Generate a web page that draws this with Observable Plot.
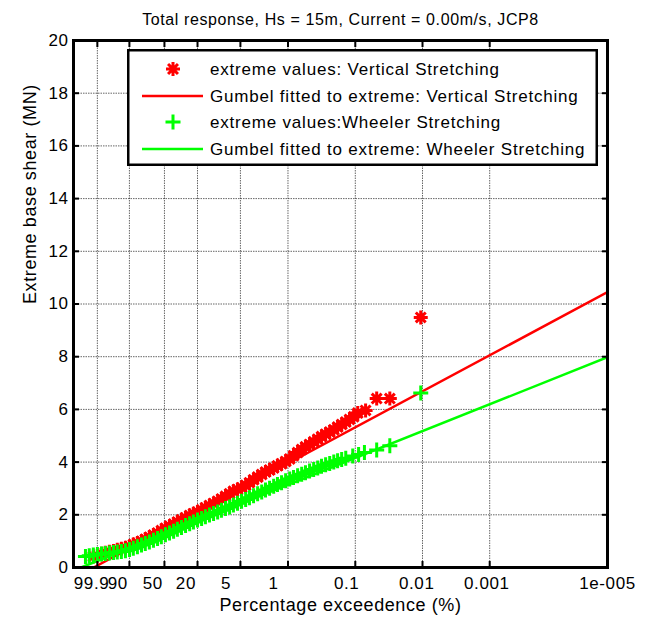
<!DOCTYPE html>
<html>
<head>
<meta charset="utf-8">
<script src="https://cdn.jsdelivr.net/npm/d3@7"></script>
<script src="https://cdn.jsdelivr.net/npm/@observablehq/plot@0.6"></script>
<style>
  body { margin: 0; background: #fff; }
  #wrap { position: relative; width: 655px; height: 624px; font-family: "Liberation Sans", Arial, sans-serif; }
  #wrap svg text { letter-spacing: 0.6px; }
  #legend { position: absolute; left: 127px; top: 49px; }
</style>
</head>
<body>
<div id="wrap"></div>
<script>
// ---------- text ----------
const titleText = "Total response, Hs = 15m, Current = 0.00m/s, JCP8";
const xLabel = "Percentage exceedence (%)";
const yLabel = "Extreme base shear (MN)";
const legendLabels = [
  "extreme values: Vertical Stretching",
  "Gumbel fitted to extreme: Vertical Stretching",
  "extreme values:Wheeler Stretching",
  "Gumbel fitted to extreme: Wheeler Stretching"
];

// ---------- axes ----------
const xTickPct = [99.9, 90, 50, 20, 5, 1, 0.1, 0.01, 0.001];
const xTickLabels = ["99.9", "90", "50", "20", "5", "1", "0.1", "0.01", "0.001", "1e-005"];
const xLimits = [-2.75, 15.55];          // Gumbel reduced variate range of the axis
const yTicks = [0, 2, 4, 6, 8, 10, 12, 14, 16, 18, 20];
const yLimits = [0, 20];

// ---------- data (x = Gumbel reduced variate of the plotting position) ----------
const bandX = [-2.34,-2.21,-2.07,-1.93,-1.79,-1.66,-1.52,-1.38,-1.25,-1.11,-0.97,-0.83,-0.70,-0.56,-0.42,-0.29,
  -0.15,-0.01,0.13,0.26,0.40,0.54,0.68,0.81,0.95,1.09,1.23,1.36,1.50,1.64,1.77,1.91,2.05,2.19,2.32,2.46,2.60,
  2.73,2.87,3.01,3.15,3.28,3.42,3.56,3.70,3.83,3.97,4.11,4.24,4.38,4.52,4.66,4.79,4.93,5.07,5.20,5.34,5.48,
  5.62,5.75,5.89,6.03,6.17,6.30,6.44,6.58];

const redTailX = [6.71, 6.85, 6.99, 7.26, 7.64, 8.09, 9.15];
const redBandVals = [0.42,0.45,0.52,0.56,0.60,0.63,0.67,0.71,0.75,0.80,0.87,0.93,1.00,1.07,1.15,1.23,1.31,1.40,
  1.49,1.57,1.65,1.73,1.81,1.89,1.97,2.04,2.11,2.19,2.27,2.35,2.43,2.51,2.60,2.70,2.80,2.89,2.96,3.03,3.12,3.22,
  3.33,3.43,3.53,3.62,3.70,3.78,3.86,3.94,4.02,4.12,4.24,4.36,4.48,4.58,4.67,4.77,4.87,4.97,5.06,5.14,5.23,5.33,
  5.43,5.52];
const redTailVals = [5.62, 5.72, 5.86, 5.96, 6.41, 6.41, 9.49];

const greenTailX = [6.82, 7.02, 7.22, 7.64, 8.09, 9.15];
const greenBandVals = [0.42,0.45,0.47,0.49,0.51,0.53,0.55,0.57,0.59,0.61,0.64,0.68,0.73,0.79,0.85,0.91,0.97,1.03,
  1.10,1.17,1.24,1.31,1.38,1.45,1.52,1.59,1.66,1.73,1.80,1.86,1.93,1.99,2.05,2.11,2.17,2.24,2.30,2.37,2.44,2.51,
  2.58,2.65,2.72,2.80,2.87,2.94,3.01,3.08,3.15,3.22,3.29,3.36,3.42,3.48,3.54,3.60,3.66,3.72,3.78,3.84,3.90,3.95,
  4.00,4.05,4.10,4.15];
const greenTailVals = [4.23, 4.29, 4.36, 4.46, 4.62, 6.62];

// fitted Gumbel lines: end points
const redFitX = [-2.06, 15.55], redFitVals = [0, 10.45];
const greenFitX = [-2.49, 15.55], greenFitVals = [0, 7.98];

// ---------- build tables ----------
const redX = bandX.slice(2).concat(redTailX);
const redVals = redBandVals.concat(redTailVals);
const greenX = bandX.concat(greenTailX);
const greenVals = greenBandVals.concat(greenTailVals);
const redPts = redX.map((x, i) => ({x, y: redVals[i]}));
const greenPts = greenX.map((x, i) => ({x, y: greenVals[i]}));
const redFit = redFitX.map((x, i) => ({x, y: redFitVals[i]}));
const greenFit = greenFitX.map((x, i) => ({x, y: greenFitVals[i]}));

const gumbel = p => -Math.log(-Math.log(1 - p / 100));
const xTickVals = xTickPct.map(gumbel).concat([xLimits[1]]);
const xTickTable = xTickVals.map((x, i) => ({x, label: xTickLabels[i], len: xTickLabels[i].length}));

// MATLAB-like markers
const matStar = {draw(ctx, size) {
  const h = Math.sqrt(size / Math.PI), d = h * Math.SQRT1_2;
  ctx.moveTo(-h, 0); ctx.lineTo(h, 0); ctx.moveTo(0, -h); ctx.lineTo(0, h);
  ctx.moveTo(-d, -d); ctx.lineTo(d, d); ctx.moveTo(-d, d); ctx.lineTo(d, -d);
}};
const matPlus = {draw(ctx, size) {
  const h = Math.sqrt(size / Math.PI);
  ctx.moveTo(-h, 0); ctx.lineTo(h, 0); ctx.moveTo(0, -h); ctx.lineTo(0, h);
}};

const RED = "#ff0000", GREEN = "#00ff00";
const gridStyle = {stroke: "#000", strokeOpacity: 0.6, strokeDasharray: "1.5,1", strokeWidth: 1};

// tick labels: shorter labels sit left of their tick (MATLAB padded char-matrix labels)
const labelMarks = d3.groups(xTickTable, d => d.len).map(([len, rows]) =>
  Plot.text(rows, {x: "x", text: "label", frameAnchor: "bottom", dy: 9, lineAnchor: "top",
                   dx: len === 6 ? 0 : -(6 - len) * 2.9}));

const chart = Plot.plot({
  width: 655, height: 624,
  marginLeft: 73, marginRight: 48, marginTop: 40, marginBottom: 57,
  style: {fontFamily: '"Liberation Sans", Arial, sans-serif', fontSize: "17px", background: "#fff", color: "#000", overflow: "visible"},
  x: {type: "linear", domain: xLimits},
  y: {type: "linear", domain: yLimits},
  marks: [
    Plot.gridX(xTickVals.slice(0, -1), gridStyle),
    Plot.gridY(yTicks.slice(1, -1), gridStyle),
    Plot.dot(redPts, {x: "x", y: "y", symbol: matStar, r: 7, stroke: RED, fill: "none", strokeWidth: 3}),
    Plot.line(redFit, {x: "x", y: "y", stroke: RED, strokeWidth: 2.5, clip: true}),
    Plot.dot(greenPts, {x: "x", y: "y", symbol: matPlus, r: 7.5, stroke: GREEN, fill: "none", strokeWidth: 3}),
    Plot.line(greenFit, {x: "x", y: "y", stroke: GREEN, strokeWidth: 2.5, clip: true}),
    Plot.frame({stroke: "#000", strokeWidth: 3}),
    Plot.axisX(xTickVals, {anchor: "bottom", tickSize: -6, strokeWidth: 2, tickFormat: () => "", label: null}),
    Plot.axisX(xTickVals, {anchor: "top", tickSize: -6, strokeWidth: 2, tickFormat: () => "", label: null}),
    ...labelMarks,
    Plot.axisY(yTicks, {anchor: "left", tickSize: -6, strokeWidth: 2, tickFormat: () => "", label: null}),
    Plot.axisY(yTicks, {anchor: "right", tickSize: -6, strokeWidth: 2, tickFormat: () => "", label: null}),
    Plot.axisY(yTicks, {anchor: "left", tickSize: 0, tickPadding: 5, label: null}),
    Plot.text([xLabel], {text: d => d, frameAnchor: "bottom", dy: 31, lineAnchor: "top", fontSize: 18}),
    Plot.text([yLabel], {text: d => d, frameAnchor: "left", dx: -43, rotate: -90, fontSize: 18}),
    Plot.text([titleText], {text: d => d, frameAnchor: "top", dy: -27, fontSize: 16})
  ]
});
document.getElementById("wrap").appendChild(chart);

// ---------- legend ----------
const lg = d3.select("#wrap").append("svg").attr("id", "legend")
  .attr("width", 471).attr("height", 117)
  .style("font-family", '"Liberation Sans", Arial, sans-serif').style("font-size", "17px");
lg.append("rect").attr("x", 1.25).attr("y", 1.25).attr("width", 468.5).attr("height", 114.5)
  .attr("fill", "#fff").attr("stroke", "#000").attr("stroke-width", 2.5);
const rowsY = [20, 47, 73, 100];
const kinds = [
  {type: "dot", color: RED, sym: matStar, r: 7, w: 3},
  {type: "line", color: RED},
  {type: "dot", color: GREEN, sym: matPlus, r: 7.5, w: 3},
  {type: "line", color: GREEN}
];
kinds.forEach((k, i) => {
  const cy = rowsY[i];
  if (k.type === "line") {
    lg.append("line").attr("x1", 15).attr("x2", 76).attr("y1", cy).attr("y2", cy)
      .attr("stroke", k.color).attr("stroke-width", 2.5);
  } else {
    lg.append("path").attr("transform", `translate(46,${cy})`)
      .attr("d", d3.symbol(k.sym, Math.PI * k.r * k.r)())
      .attr("fill", "none").attr("stroke", k.color).attr("stroke-width", k.w);
  }
  lg.append("text").attr("x", 83).attr("y", cy).attr("dy", "0.35em")
    .style("letter-spacing", "0.8px").text(legendLabels[i]);
});
</script>
</body>
</html>
